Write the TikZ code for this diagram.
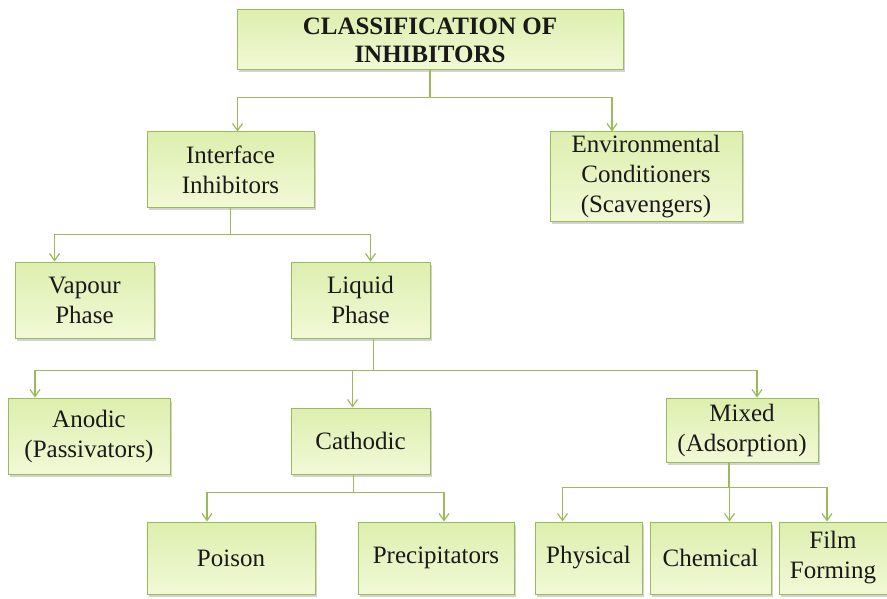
\documentclass[tikz,border=0pt]{standalone}
\usepackage{fontspec}
\setmainfont{Liberation Serif}
\usetikzlibrary{arrows.meta, shadows}

\definecolor{boxline}{HTML}{9BBB59}
\definecolor{boxtop}{HTML}{DDEFAE}
\definecolor{boxbot}{HTML}{F1F9D6}
\definecolor{linkcol}{HTML}{9BBB59}

\begin{document}
\begin{tikzpicture}[
      x=1pt, y=-1pt,
      >={Straight Barb[length=7pt, width=10pt, line width=1.2pt]},
      box/.style={draw=boxline, line width=1pt, top color=boxtop, bottom color=boxbot,
        drop shadow={shadow xshift=2pt, shadow yshift=-2.5pt, opacity=0.35},
        inner sep=0pt, align=center, text=black!90,
        font=\fontsize{25}{30}\selectfont},
      title/.style={box, font=\fontsize{25}{28}\selectfont\bfseries},
      trans/.style={->, draw=linkcol, line width=1.6pt}
    ]

    \useasboundingbox (0,0) rectangle (887,599);

    \node[title, minimum width=386pt, minimum height=60pt] (cls) at (430,40) {CLASSIFICATION OF\\INHIBITORS};
    \node[box, minimum width=167pt, minimum height=76pt] (iface) at (230.5,170) {Interface\\Inhibitors};
    \node[box, minimum width=192pt, minimum height=90pt] (env) at (646,177) {Environmental\\Conditioners\\(Scavengers)};
    \node[box, minimum width=139pt, minimum height=76pt] (vapour) at (84.5,300) {Vapour\\Phase};
    \node[box, minimum width=139pt, minimum height=76pt] (liquid) at (360.5,300) {Liquid\\Phase};
    \node[box, minimum width=162pt, minimum height=76pt] (anodic) at (89,436) {Anodic\\(Passivators)};
    \node[box, minimum width=139pt, minimum height=66pt] (cathodic) at (360.5,441) {Cathodic};
    \node[box, minimum width=152pt, minimum height=64pt] (mixed) at (742,430) {Mixed\\(Adsorption)};
    \node[box, minimum width=168pt, minimum height=72pt] (poison) at (231,558) {Poison};
    \node[box, minimum width=156pt, minimum height=72pt] (precip) at (436,558) {Precipitators};
    \node[box, minimum width=107pt, minimum height=72pt] (physical) at (588.5,558) {Physical};
    \node[box, minimum width=121pt, minimum height=72pt] (chemical) at (710.5,558) {Chemical};
    \node[box, minimum width=108pt, minimum height=72pt] (film) at (833,558) {Film\\Forming};

    % top level
    \draw[trans] (cls.south) -- ++(0,27) -| ([xshift=7pt]iface.north);
    \draw[trans] (cls.south) -- ++(0,27) -| ([xshift=-34pt]env.north);

    % interface inhibitors
    \draw[trans] (iface.south) -- ++(0,26) -| ([xshift=-30pt]vapour.north);
    \draw[trans] (iface.south) -- ++(0,26) -| ([xshift=10pt]liquid.north);

    % liquid phase
    \draw[trans] ([xshift=13pt]liquid.south) -- ++(0,32) -| ([xshift=-54pt]anodic.north);
    \draw[trans] ([xshift=13pt]liquid.south) -- ++(0,32) -| ([xshift=-8pt]cathodic.north);
    \draw[trans] ([xshift=13pt]liquid.south) -- ++(0,32) -| ([xshift=15pt]mixed.north);

    % cathodic
    \draw[trans] ([xshift=-7pt]cathodic.south) -- ++(0,18) -| ([xshift=-24pt]poison.north);
    \draw[trans] ([xshift=-7pt]cathodic.south) -- ++(0,18) -| ([xshift=8pt]precip.north);

    % mixed
    \draw[trans] ([xshift=-13pt]mixed.south) -- ++(0,25) -| ([xshift=-26pt]physical.north);
    \draw[trans] ([xshift=-13pt]mixed.south) -- ++(0,25) -| ([xshift=19pt]chemical.north);
    \draw[trans] ([xshift=-13pt]mixed.south) -- ++(0,25) -| ([xshift=-6pt]film.north);

  \end{tikzpicture}
\end{document}
